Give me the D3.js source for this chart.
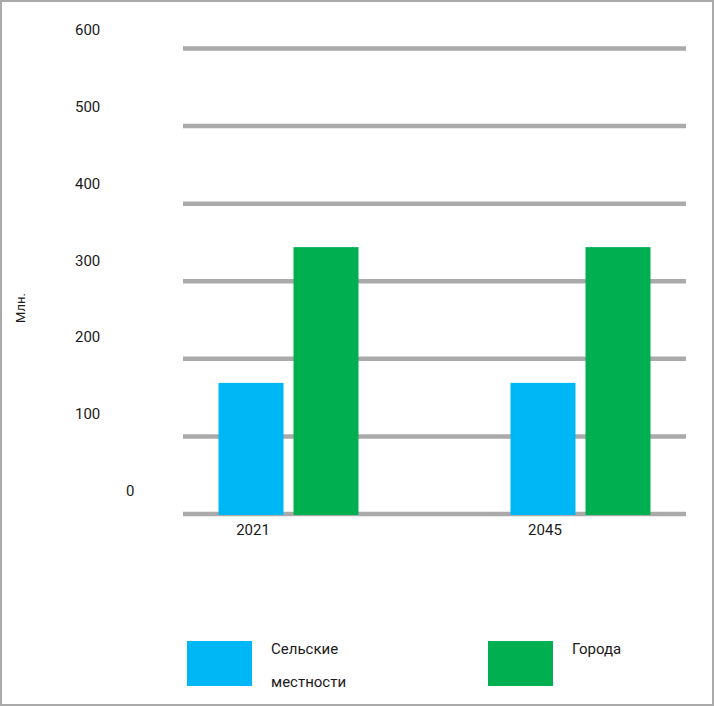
<!DOCTYPE html>
<html><head><meta charset="utf-8">
<script src="https://cdn.jsdelivr.net/npm/d3@7"></script>
<style>
html,body{margin:0;padding:0;background:#fff;}
svg{display:block;}
text{font-family:Roboto,"Noto Sans",sans-serif;fill:#1a1a1a;}
</style></head>
<body>
<script>
const years = ["2021", "2045"];
const seriesNames = ["Сельские местности", "Города"];
const seriesKeys = ["rural", "urban"];
const ruralValues = [169, 169];
const urbanValues = [344, 344];
const yTicks = [0, 100, 200, 300, 400, 500, 600];
const yTitle = "Млн.";
const colors = ["#00b7f5", "#00b050"];

const W = 714, H = 706;
const svg = d3.select("body").append("svg").attr("width", W).attr("height", H);

svg.append("rect").attr("x", 1).attr("y", 1).attr("width", W - 2).attr("height", H - 2)
  .attr("fill", "#fff").attr("stroke", "#aaaaaa").attr("stroke-width", 2);

const y = d3.scaleLinear().domain([0, 600]).range([514, 48.5]);
const yLabel = d3.scaleLinear().domain([0, 600]).range([496, 35]);
const x = d3.scaleBand().domain(years).range([183, 686]).paddingInner(0.5205).paddingOuter(0.1216);
const xi = d3.scaleBand().domain(seriesKeys).range([0, x.bandwidth()]).paddingInner(0.1333).paddingOuter(0);

// gridlines
svg.append("g").selectAll("line").data(yTicks).join("line")
  .attr("x1", 183).attr("x2", 686)
  .attr("y1", d => y(d)).attr("y2", d => y(d))
  .attr("stroke", "#aaaaaa").attr("stroke-width", 4.5);

// y tick labels
svg.append("g").selectAll("text").data(yTicks).join("text")
  .attr("x", d => d === 0 ? 126 : 75)
  .attr("y", d => yLabel(d))
  .attr("font-size", 15)
  .text(d => d);

// y title
svg.append("text")
  .attr("transform", "translate(25,308) rotate(-90)")
  .attr("text-anchor", "middle")
  .attr("font-size", 13)
  .text(yTitle);

const rows = years.map((yr, i) => ({ year: yr, rural: ruralValues[i], urban: urbanValues[i] }));

const g = svg.append("g").selectAll("g").data(rows).join("g")
  .attr("transform", d => `translate(${x(d.year)},0)`);
g.selectAll("rect").data(d => seriesKeys.map((k, j) => ({ key: k, value: d[k], j })))
  .join("rect")
  .attr("x", d => xi(d.key))
  .attr("width", xi.bandwidth())
  .attr("y", d => y(d.value))
  .attr("height", d => y(0) + 1 - y(d.value))
  .attr("fill", d => colors[d.j]);

// x labels
svg.append("g").selectAll("text").data(years).join("text")
  .attr("x", d => x(d) + xi(seriesKeys[0]) + xi.bandwidth() / 2 + 2)
  .attr("y", 535)
  .attr("text-anchor", "middle")
  .attr("font-size", 15)
  .text(d => d);

// legend
const legendX = [187, 488];
const lg = svg.append("g").selectAll("g").data(seriesNames).join("g")
  .attr("transform", (d, i) => `translate(${legendX[i]},641)`);
lg.append("rect").attr("width", 65).attr("height", 45).attr("fill", (d, i) => colors[i]);
lg.append("text").attr("x", 84).attr("y", 12.5).attr("font-size", 15)
  .selectAll("tspan").data(d => d.split(" ")).join("tspan")
  .attr("x", 84).attr("dy", (d, i) => i === 0 ? 0 : 33).text(d => d);
</script>
</body></html>
